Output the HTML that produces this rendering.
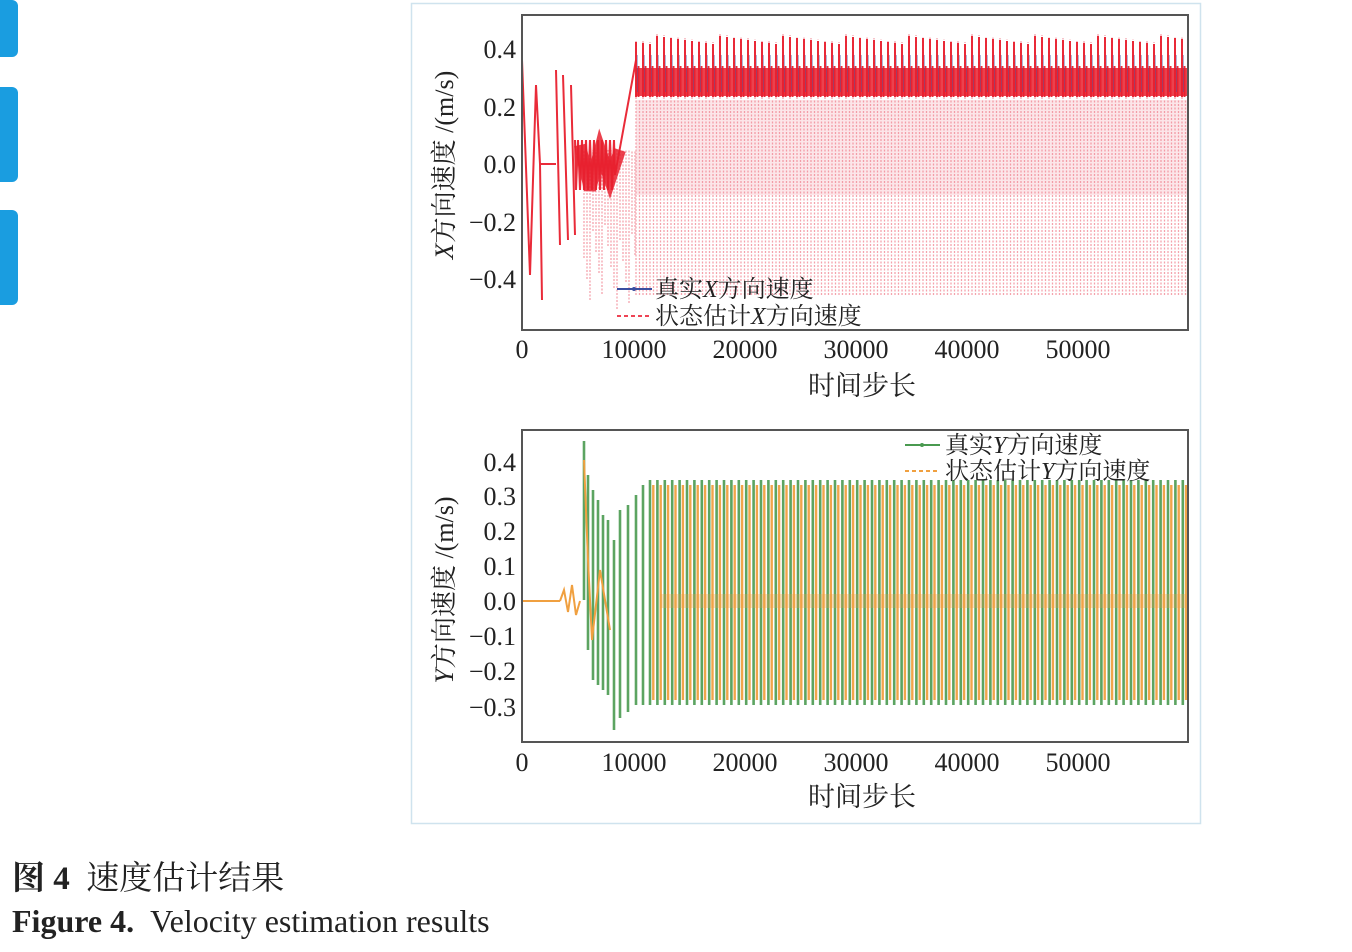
<!DOCTYPE html>
<html><head><meta charset="utf-8"><style>
body{margin:0;width:1352px;height:952px;background:#fff;overflow:hidden;position:relative;font-family:"Liberation Serif","Noto Serif CJK SC",serif}
.tab{position:absolute;left:0;width:18px;background:#1a9de0;border-radius:0 6px 6px 0}
.cap1{position:absolute;left:12px;top:852px;font-size:33px;color:#222}
.cap2{position:absolute;left:12px;top:903px;font-size:32px;color:#222}
</style></head><body>
<div class="tab" style="top:0;height:57px"></div>
<div class="tab" style="top:87px;height:95px"></div>
<div class="tab" style="top:210px;height:95px"></div>
<svg width="1352" height="952" style="position:absolute;left:0;top:0" font-family="Liberation Serif, Noto Serif CJK SC, serif">
<rect x="411.5" y="3.5" width="789" height="820" fill="none" stroke="#cfe3ee" stroke-width="1.5"/>
<rect x="636" y="100" width="551" height="95" fill="#f7b8c0" opacity="0.35"/>
<g id="g1"></g><g id="g2"></g>
<rect x="522" y="15" width="666" height="315" fill="none" stroke="#555" stroke-width="2"/>
<rect x="522" y="430" width="666" height="312" fill="none" stroke="#555" stroke-width="2"/>
<g font-size="26" fill="#222" text-anchor="end">
<text x="516" y="58">0.4</text><text x="516" y="116">0.2</text><text x="516" y="173">0.0</text><text x="516" y="231">−0.2</text><text x="516" y="288">−0.4</text>
<text x="516" y="471">0.4</text><text x="516" y="505">0.3</text><text x="516" y="540">0.2</text><text x="516" y="575">0.1</text><text x="516" y="610">0.0</text><text x="516" y="645">−0.1</text><text x="516" y="680">−0.2</text><text x="516" y="716">−0.3</text>
</g>
<g font-size="26" fill="#222" text-anchor="middle">
<text x="522" y="358">0</text><text x="634" y="358">10000</text><text x="745" y="358">20000</text><text x="856" y="358">30000</text><text x="967" y="358">40000</text><text x="1078" y="358">50000</text>
<text x="522" y="771">0</text><text x="634" y="771">10000</text><text x="745" y="771">20000</text><text x="856" y="771">30000</text><text x="967" y="771">40000</text><text x="1078" y="771">50000</text>
<text x="862" y="395" font-size="27">时间步长</text><text x="862" y="806" font-size="27">时间步长</text>
</g>
<text transform="translate(453,165) rotate(-90)" font-size="26" fill="#222" text-anchor="middle"><tspan font-style="italic">X</tspan>方向速度 /(m/s)</text>
<text transform="translate(453,590) rotate(-90)" font-size="26" fill="#222" text-anchor="middle"><tspan font-style="italic">Y</tspan>方向速度 /(m/s)</text>
<g font-size="24" fill="#222">
<line x1="617" y1="289" x2="652" y2="289" stroke="#3a4ea0" stroke-width="2"/><circle cx="634" cy="289" r="2" fill="#3a4ea0"/>
<text x="655" y="297">真实<tspan font-style="italic">X</tspan>方向速度</text>
<line x1="617" y1="316" x2="652" y2="316" stroke="#ee4455" stroke-width="2" stroke-dasharray="4,3"/>
<text x="655" y="324">状态估计<tspan font-style="italic">X</tspan>方向速度</text>
<line x1="905" y1="445" x2="940" y2="445" stroke="#4a9a50" stroke-width="2"/><circle cx="922" cy="445" r="2" fill="#4a9a50"/>
<text x="945" y="453">真实<tspan font-style="italic">Y</tspan>方向速度</text>
<line x1="905" y1="471" x2="940" y2="471" stroke="#f0a040" stroke-width="2" stroke-dasharray="4,3"/>
<text x="945" y="479">状态估计<tspan font-style="italic">Y</tspan>方向速度</text>
</g>
</svg>
<div class="cap1"><b>图 4</b>&nbsp;&nbsp;速度估计结果</div>
<div class="cap2"><b>Figure 4.</b>&nbsp;&nbsp;Velocity estimation results</div>
<script>
var NS="http://www.w3.org/2000/svg";
function P(g,d,c,w,o,da){var p=document.createElementNS(NS,"path");p.setAttribute("d",d);p.setAttribute("stroke",c);p.setAttribute("stroke-width",w);p.setAttribute("fill","none");p.setAttribute("opacity",o);if(da)p.setAttribute("stroke-dasharray",da);document.getElementById(g).appendChild(p);}
var pink="",red="",blue="";
for(var x=636;x<1187;x+=7){var t=36+((x*13)%9);pink+="M"+x+" 295V"+(t-2)+"M"+(x+3.5)+" 295V100";red+="M"+x+" 97V"+t+"M"+(x+2.5)+" 97V66";blue+="M"+(x+1.5)+" 92V55";}
for(var x=584;x<636;x+=3){pink+="M"+x+" "+(220+((x*7)%90))+"V150";}
P("g1",pink,"#f07c8a",1.3,0.7,"2,1.5");
P("g1","M636 82H1187","#e8202e",28,0.85);
P("g1",red,"#e8202e",2,0.95);
P("g1",blue,"#3a4ea0",0.8,0.5);
var e="M522 60L530 275L536 85L540 164H556M556 70L560 245M563 75L568 240M571 85L575 235M575 140";
for(var x=576;x<615;x+=2)e+="L"+x+" "+(x%4?140:190);
e+="L615 175L636 60M540 164L542 300";
P("g1",e,"#e8202e",2,0.95);
P("g1","M580 145L590 190L600 150L610 180L620 150","#e8202e",12,0.85);
var gr="",or="";
for(var x=650;x<1184;x+=7.4){gr+="M"+x.toFixed(1)+" 705V480";or+="M"+(x+3.3).toFixed(1)+" 700V485";}
gr+="M584 441V600M588 475V650M593 490V680M598 500V685M603 515V690M608 520V695M614 730V540M620 718V510M628 712V505M636 705V495M643 705V485";
P("g2",gr,"#4a9a50",2.6,0.9);
P("g2",or,"#f0a040",2.4,0.95);
P("g2","M522 601H560M560 601L564 590L568 612L572 585L576 615L580 601M584 460L588 560L592 640L600 570L610 630","#f0a040",2,1);
P("g2","M660 601H1186","#f0a040",14,0.3);
</script>
</body></html>
